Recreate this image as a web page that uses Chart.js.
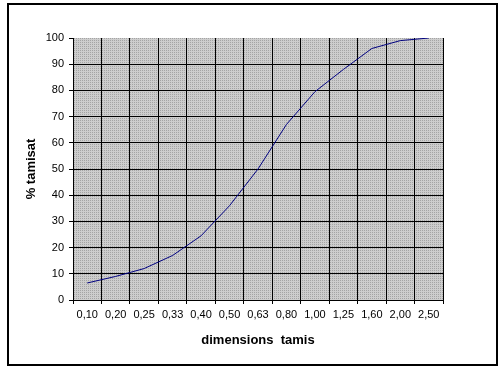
<!DOCTYPE html>
<html>
<head>
<meta charset="utf-8">
<script src="https://cdn.jsdelivr.net/npm/chart.js@4"></script>
<style>
  html, body { margin: 0; padding: 0; background: #fff; }
  #wrap { width: 501px; height: 369px; }
</style>
</head>
<body>
<div id="wrap"><canvas id="sieveChart" width="501" height="369"></canvas></div>
<script>
// sieve sizes (x categories) and cumulative passing (%)
const categories = ['0,10', '0,20', '0,25', '0,33', '0,40', '0,50', '0,63', '0,80', '1,00', '1,25', '1,60', '2,00', '2,50'];
const passing = [6.5, 9, 12, 17, 24.5, 36, 50, 67, 79.5, 88, 96, 99, 100];
const yTicks = [0, 10, 20, 30, 40, 50, 60, 70, 80, 90, 100];

// dotted grey fill like the excel plot area
function makePattern(ctx) {
    const p = document.createElement('canvas');
    p.width = 2;
    p.height = 2;
    const pc = p.getContext('2d');
    pc.fillStyle = '#cdcdcd';
    pc.fillRect(0, 0, 2, 2);
    pc.fillStyle = '#a4a4a4';
    pc.fillRect(0, 0, 1, 1);
    return ctx.createPattern(p, 'repeat');
}

const frame = {
    id: 'frame',
    beforeDraw(chart) {
        const { ctx, chartArea } = chart;
        ctx.save();
        ctx.fillStyle = '#fff';
        ctx.fillRect(0, 0, chart.width, chart.height);
        ctx.fillStyle = makePattern(ctx);
        ctx.fillRect(chartArea.left, chartArea.top, chartArea.right - chartArea.left, chartArea.bottom - chartArea.top);
        ctx.restore();
    },
    afterDraw(chart) {
        const ctx = chart.ctx;
        ctx.save();
        ctx.strokeStyle = '#000';
        ctx.lineWidth = 2;
        ctx.strokeRect(8, 4, 489, 361);
        ctx.restore();
    }
};

Chart.defaults.font.family = 'Arial, "Liberation Sans", sans-serif';
Chart.defaults.color = '#000';

new Chart(document.getElementById('sieveChart').getContext('2d'), {
    type: 'line',
    data: {
        labels: categories,
        datasets: [{
            label: '% tamisat',
            data: passing,
            borderColor: '#000080',
            borderWidth: 1,
            pointRadius: 0,
            tension: 0,
            fill: false,
        }],
    },
    options: {
        responsive: false,
        devicePixelRatio: 1,
        animation: false,
        layout: { padding: { left: 20, right: 58, top: 38, bottom: 19 } },
        plugins: { legend: { display: false }, tooltip: { enabled: false } },
        scales: {
            x: {
                offset: true,
                afterFit(scale) { scale.height = 50; },
                grid: {
                    offset: true,
                    color: (c) => (c.index === categories.length ? 'rgba(0,0,0,0)' : '#000'),
                    tickColor: '#000',
                    lineWidth: 1,
                    tickLength: 4,
                },
                border: { color: '#000', width: 1 },
                ticks: { font: { size: 11 }, padding: 4, maxRotation: 0, autoSkip: false },
                title: {
                    display: true,
                    text: 'dimensions  tamis',
                    font: { size: 13, weight: 'bold' },
                    padding: { top: 0, bottom: 2 },
                },
            },
            y: {
                min: 0,
                max: 100,
                afterFit(scale) { scale.width = 53; },
                afterBuildTicks(scale) { scale.ticks = yTicks.map(v => ({ value: v })); },
                grid: {
                    color: (c) => (c.tick && c.tick.value === 100 ? 'rgba(0,0,0,0)' : '#000'),
                    tickColor: '#000',
                    lineWidth: 1,
                    tickLength: 4,
                },
                border: { color: '#000', width: 1 },
                ticks: { font: { size: 11 }, padding: 5 },
                title: {
                    display: true,
                    text: '% tamisat',
                    font: { size: 13, weight: 'bold' },
                    padding: { top: 4, bottom: 0 },
                },
            },
        },
    },
    plugins: [frame],
});
</script>
</body>
</html>
